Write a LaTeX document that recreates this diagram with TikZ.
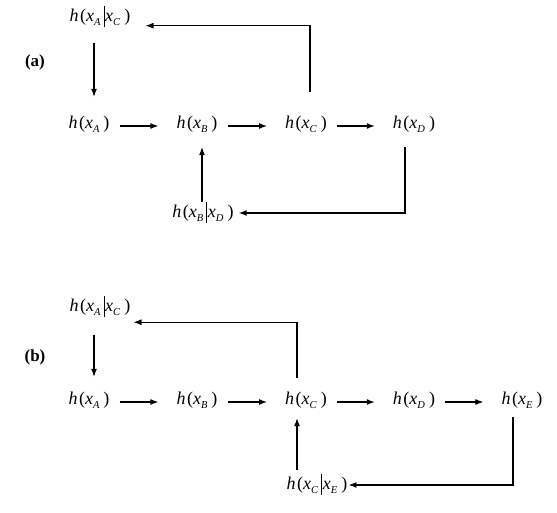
\documentclass[tikz,border=0pt]{standalone}
\usepackage{fontspec}
\setmainfont{Liberation Serif}
\usetikzlibrary{arrows.meta,positioning,calc}
\definecolor{HdInk}{RGB}{0,0,0}
\newcommand{\hsub}[1]{\raisebox{-0.45ex}{\fontsize{10.5}{10}\selectfont\textit{#1}}}
\newcommand{\hterm}[1]{\textit{h}\kern1.5pt(\textit{x}\hsub{#1}\kern4pt)}
\newcommand{\hcond}[2]{\textit{h}\kern1.5pt(\textit{x}\hsub{#1}\kern3pt\rule[-0.3em]{0.6pt}{1.15em}\kern1pt\textit{x}\hsub{#2}\kern4pt)}
\tikzset{
  hd/term/.style={
    inner sep=0pt,
    text height=13pt,
    text depth=4pt,
    text=HdInk,
    font=\fontsize{18}{20}\selectfont
  },
  hd/title/.style={font=\fontsize{17}{20}\selectfont\bfseries, text=HdInk},
  hd/arrow/.style={-{Latex[length=8pt,width=6pt]}, line width=1.1pt, draw=HdInk},
  hd/next/.style={hd/arrow, shorten <=10pt, shorten >=18pt}
}
\begin{document}
\begin{tikzpicture}[x=1pt,y=1pt]
  \useasboundingbox (0,0) rectangle (557,512);
  % (a)
  \node[hd/title] (lblA) at (35,450) {(a)};
  \node[hd/term] (aAC) at (100,495) {\hcond{A}{C}};
  \foreach \n/\x in {A/89,B/197,C/306,D/414}
    {\node[hd/term] (a\n) at (\x,388) {\hterm{\n}};}
  \node[hd/term] (aBD) at (203,299) {\hcond{B}{D}};
  \draw[hd/next] ([yshift=-2pt]aA.east) -- ([yshift=-2pt]aB.west);
  \draw[hd/next] ([yshift=-2pt]aB.east) -- ([yshift=-2pt]aC.west);
  \draw[hd/next] ([yshift=-2pt]aC.east) -- ([yshift=-2pt]aD.west);
  \draw[hd/arrow, shorten <=17.5pt, shorten >=18.5pt] ([xshift=-6pt]aAC.south) -- ([xshift=5pt]aA.north);
  \draw[hd/arrow, shorten <=23.5pt, shorten >=15pt] ([xshift=4pt]aC.north) |- (aAC.south east);
  \draw[hd/arrow, shorten <=14.5pt, shorten >=5pt] ([xshift=-9pt]aD.south) |- (aBD.east);
  \draw[hd/arrow, shorten <=2.5pt, shorten >=14.5pt] ([xshift=-1pt]aBD.north) -- ([xshift=5pt]aB.south);
  % (b)
  \node[hd/title] (lblB) at (35,155) {(b)};
  \node[hd/term] (bAC) at (100,205) {\hcond{A}{C}};
  \foreach \n/\x in {A/89,B/197,C/306,D/414,E/522}
    {\node[hd/term] (b\n) at (\x,112) {\hterm{\n}};}
  \node[hd/term] (bCE) at (317,27) {\hcond{C}{E}};
  \draw[hd/next] ([yshift=-2pt]bA.east) -- ([yshift=-2pt]bB.west);
  \draw[hd/next] ([yshift=-2pt]bB.east) -- ([yshift=-2pt]bC.west);
  \draw[hd/next] ([yshift=-2pt]bC.east) -- ([yshift=-2pt]bD.west);
  \draw[hd/next] ([yshift=-2pt]bD.east) -- ([yshift=-2pt]bE.west);
  \draw[hd/arrow, shorten <=19.5pt, shorten >=14.5pt] ([xshift=-6pt]bAC.south) -- ([xshift=5pt]bA.north);
  \draw[hd/arrow, shorten <=13.5pt, shorten >=3pt] ([xshift=-9pt]bC.north) |- ([yshift=-6.5pt]bAC.south east);
  \draw[hd/arrow, shorten <=8.5pt, shorten >=1pt] ([xshift=-9pt]bE.south) |- (bCE.east);
  \draw[hd/arrow, shorten <=6.5pt, shorten >=9.5pt] ([xshift=-20pt]bCE.north) -- ([xshift=-9pt]bC.south);
\end{tikzpicture}
\end{document}
